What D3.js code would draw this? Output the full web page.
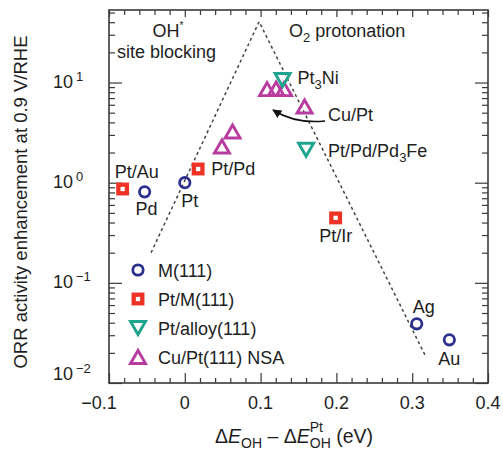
<!DOCTYPE html>
<html>
<head>
<meta charset="utf-8">
<script src="https://cdn.jsdelivr.net/npm/d3@7"></script>
<style>
  body { margin: 0; background: #fff; }
  svg text { font-family: "Liberation Sans", Arial, Helvetica, sans-serif; fill: #1e1e1e; white-space: pre; }
</style>
</head>
<body>
<svg id="chart" width="503" height="455"></svg>
<script>
// ---------------- DATA ----------------
// M(111) surfaces
const m111 = [
  { name: "Pd", x: -0.053, y: 0.81 },
  { name: "Pt", x: 0.0, y: 1.0 },
  { name: "Ag", x: 0.306, y: 0.039 },
  { name: "Au", x: 0.349, y: 0.027 }
];
// Pt monolayers on M(111)
const ptM = [
  { name: "Pt/Au", x: -0.082, y: 0.865 },
  { name: "Pt/Pd", x: 0.0176, y: 1.37 },
  { name: "Pt/Ir", x: 0.199, y: 0.445 }
];
// Pt skins on alloys
const ptAlloy = [
  { name: "Pt3Ni", x: 0.129, y: 10.6 },
  { name: "Pt/Pd/Pd3Fe", x: 0.160, y: 2.13 }
];
// Cu/Pt(111) near-surface alloys
const cuPt = [
  { x: 0.049, y: 2.30 },
  { x: 0.063, y: 3.25 },
  { x: 0.1086, y: 8.6 },
  { x: 0.1205, y: 8.7 },
  { x: 0.131, y: 8.6 },
  { x: 0.158, y: 5.77 }
];
// volcano guide (dotted)
const volcano = [
  { x: -0.0445, y: 0.2 },
  { x: 0.098, y: 40.5 },
  { x: 0.318, y: 0.0183 }
];
// arrow pointing at Cu/Pt cluster
const arrowFrom = { x: 0.185, y: 4.13 };
const arrowTo = { x: 0.1164, y: 5.32 };

const xMajor = [-0.1, 0, 0.1, 0.2, 0.3, 0.4];
const yDecades = [-2, -1, 0, 1];
const legendItems = ["M(111)", "Pt/M(111)", "Pt/alloy(111)", "Cu/Pt(111) NSA"];

// ---------------- STYLE ----------------
const C_NAVY = "#2c2f8c";
const C_RED = "#ee3326";
const C_TEAL = "#1fa48e";
const C_MAG = "#b83c9f";
const C_FRAME = "#3a3a3a";
const FS = 18;

// label offsets (px) from each point
const labelOff = {
  "Pd": [2, 23, "middle"],
  "Pt": [5, 24, "middle"],
  "Ag": [7, -11, "middle"],
  "Au": [0, 25, "middle"],
  "Pt/Au": [14, -11, "middle"],
  "Pt/Pd": [13, 6, "start"],
  "Pt/Ir": [0, 24, "middle"],
  "Pt3Ni": [15, 4, "start"],
  "Pt/Pd/Pd3Fe": [22, 7, "start"]
};

const svg = d3.select("#chart");
const L = 109, R = 488, T = 10, B = 383;

const x = d3.scaleLinear().domain([-0.1, 0.4]).range([L, R]);
const y = d3.scaleLog().domain([0.01, 53]).range([B, T]);

// ---------------- AXES / FRAME ----------------
const xMinor = d3.range(-0.1, 0.4001, 0.02).filter(v => Math.abs(Math.round(v * 10) - v * 10) > 1e-6);
const yMinor = y.ticks().filter(v => Math.abs(Math.log10(v) - Math.round(Math.log10(v))) > 1e-6);
const yMajor = yDecades.map(e => Math.pow(10, e));

function tickGroup(axis) {
  const g = svg.append("g").call(axis);
  g.select(".domain").remove();
  g.selectAll("line").attr("stroke", C_FRAME).attr("stroke-width", 1.2);
  g.selectAll("text").remove();
  return g;
}

tickGroup(d3.axisBottom(x).tickValues(xMajor).tickSize(-10)).attr("transform", `translate(0,${B})`);
tickGroup(d3.axisBottom(x).tickValues(xMinor).tickSize(-5)).attr("transform", `translate(0,${B})`);
tickGroup(d3.axisTop(x).tickValues(xMajor).tickSize(-7)).attr("transform", `translate(0,${T})`);
tickGroup(d3.axisTop(x).tickValues(xMinor).tickSize(-5)).attr("transform", `translate(0,${T})`);
tickGroup(d3.axisLeft(y).tickValues(yMajor).tickSize(-13)).attr("transform", `translate(${L},0)`);
tickGroup(d3.axisLeft(y).tickValues(yMinor).tickSize(-6)).attr("transform", `translate(${L},0)`);
tickGroup(d3.axisRight(y).tickValues(yMajor).tickSize(-13)).attr("transform", `translate(${R},0)`);
tickGroup(d3.axisRight(y).tickValues(yMinor).tickSize(-6)).attr("transform", `translate(${R},0)`);

svg.append("rect")
  .attr("x", L).attr("y", T).attr("width", R - L).attr("height", B - T)
  .attr("fill", "none").attr("stroke", C_FRAME).attr("stroke-width", 1.6);

// x tick labels
xMajor.forEach(v => {
  svg.append("text")
    .attr("x", x(v) + (v < 0 ? -10 : 0))
    .attr("y", B + 26)
    .attr("text-anchor", "middle")
    .attr("font-size", FS)
    .text(v < 0 ? "\u2212" + Math.abs(v) : String(v));
});

// y tick labels (10^n)
yDecades.forEach(e => {
  const t = svg.append("text")
    .attr("x", 53)
    .attr("y", Math.min(y(Math.pow(10, e)) + 5, 380))
    .attr("font-size", FS);
  t.append("tspan").text("10");
  t.append("tspan").attr("dx", 3).attr("dy", -7).attr("font-size", 13)
    .text(e < 0 ? "\u2212" + Math.abs(e) : String(e));
});

// y axis title
svg.append("text")
  .attr("transform", "translate(27,202) rotate(-90)")
  .attr("text-anchor", "middle")
  .attr("font-size", 18.5)
  .text("ORR activity enhancement at 0.9 V/RHE");

// x axis title: ΔE_OH − ΔE_OH^Pt (eV)
(function () {
  const g = svg.append("g");
  const base = 443;
  let cx = 0;
  function piece(str, opts = {}) {
    const t = g.append("text")
      .attr("x", cx)
      .attr("y", base + (opts.dy || 0))
      .attr("font-size", opts.fs || 19.5)
      .attr("font-style", opts.italic ? "italic" : "normal")
      .text(str);
    return t.node().getComputedTextLength();
  }
  cx += piece("\u0394");
  cx += piece("E", { italic: true });
  cx += piece("OH", { fs: 14, dy: 5 });
  cx += piece(" \u2013 ");
  cx += piece("\u0394");
  cx += piece("E", { italic: true });
  const w1 = piece("OH", { fs: 14, dy: 5 });
  const w2 = piece("Pt", { fs: 14, dy: -11 });
  cx += Math.max(w1, w2);
  cx += piece(" (eV)");
  g.attr("transform", `translate(${294 - cx / 2},0)`);
})();

// ---------------- VOLCANO GUIDE ----------------
const line = d3.line().x(d => x(d.x)).y(d => y(d.y));
svg.append("path")
  .datum(volcano)
  .attr("fill", "none")
  .attr("stroke", "#444")
  .attr("stroke-width", 1.5)
  .attr("stroke-dasharray", "3,3")
  .attr("d", line);

// ---------------- MARKERS ----------------
function triPath(w, h, down) {
  const s = down ? -1 : 1;
  return `M0,${-s * h / 2}L${-w / 2},${s * h / 2}L${w / 2},${s * h / 2}Z`;
}

function drawCircles(g, data) {
  g.selectAll("circle").data(data).join("circle")
    .attr("cx", d => x(d.x)).attr("cy", d => y(d.y)).attr("r", 5.2)
    .attr("fill", "none").attr("stroke", C_NAVY).attr("stroke-width", 2.8);
}
function drawSquares(g, data) {
  g.selectAll("rect").data(data).join("rect")
    .attr("x", d => x(d.x) - 4.3).attr("y", d => y(d.y) - 4.3)
    .attr("width", 8.6).attr("height", 8.6)
    .attr("fill", "#fff").attr("stroke", C_RED).attr("stroke-width", 4.3);
}
function drawTris(g, data, down, color) {
  g.selectAll("path").data(data).join("path")
    .attr("transform", d => `translate(${x(d.x)},${y(d.y)})`)
    .attr("d", triPath(15, 13, down))
    .attr("fill", "none").attr("stroke", color).attr("stroke-width", 2.9)
    .attr("stroke-linejoin", "miter");
}

drawTris(svg.append("g"), cuPt, false, C_MAG);
drawTris(svg.append("g"), ptAlloy, true, C_TEAL);
drawSquares(svg.append("g"), ptM);
drawCircles(svg.append("g"), m111);

// ---------------- POINT LABELS ----------------
function writeLabel(d) {
  const off = labelOff[d.name];
  if (!off) return;
  const t = svg.append("text")
    .attr("x", x(d.x) + off[0])
    .attr("y", y(d.y) + off[1])
    .attr("text-anchor", off[2])
    .attr("font-size", FS);
  // digits after element symbols become subscripts
  const parts = d.name.split(/(\d)/).filter(s => s.length);
  let sub = false;
  parts.forEach(p => {
    if (/\d/.test(p)) {
      t.append("tspan").attr("dy", 5).attr("font-size", 13).text(p);
      sub = true;
    } else {
      t.append("tspan").attr("dy", sub ? -5 : 0).text(p);
      sub = false;
    }
  });
}
[...m111, ...ptM, ...ptAlloy].forEach(writeLabel);

// region annotations
const oh = svg.append("text").attr("x", 168).attr("y", 37).attr("text-anchor", "middle").attr("font-size", FS);
oh.append("tspan").text("OH");
oh.append("tspan").attr("dy", -8).attr("font-size", 10).text("*");
svg.append("text").attr("x", 117).attr("y", 58).attr("font-size", FS).text("site blocking");

const o2 = svg.append("text").attr("x", 289).attr("y", 37).attr("font-size", FS);
o2.append("tspan").text("O");
o2.append("tspan").attr("dy", 5).attr("font-size", 13).text("2");
o2.append("tspan").attr("dy", -5).text(" protonation");

// Cu/Pt arrow
svg.append("defs").append("marker")
  .attr("id", "head").attr("viewBox", "0 0 10 10")
  .attr("refX", 9).attr("refY", 5)
  .attr("markerWidth", 9).attr("markerHeight", 9)
  .attr("markerUnits", "userSpaceOnUse")
  .attr("orient", "auto")
  .append("path").attr("d", "M0,0L10,5L0,10Z").attr("fill", "#111");

const ax0 = x(arrowFrom.x), ay0 = y(arrowFrom.y);
const ax1 = x(arrowTo.x), ay1 = y(arrowTo.y);
svg.append("path")
  .attr("d", `M${ax0},${ay0}Q${(ax0 + ax1) / 2 - 4},${ay0 + 3} ${ax1},${ay1}`)
  .attr("fill", "none").attr("stroke", "#111").attr("stroke-width", 1.6)
  .attr("marker-end", "url(#head)");
svg.append("text").attr("x", ax0 + 3).attr("y", ay0).attr("font-size", FS).text("Cu/Pt");

// ---------------- LEGEND ----------------
const lg = svg.append("g");
const rowY = i => 270 + i * 29;
legendItems.forEach((name, i) => {
  const cy = rowY(i);
  if (i === 0) lg.append("circle").attr("cx", 138).attr("cy", cy).attr("r", 5.2)
    .attr("fill", "none").attr("stroke", C_NAVY).attr("stroke-width", 2.8);
  if (i === 1) lg.append("rect").attr("x", 138 - 4.3).attr("y", cy - 4.3).attr("width", 8.6).attr("height", 8.6)
    .attr("fill", "#fff").attr("stroke", C_RED).attr("stroke-width", 4.3);
  if (i === 2) lg.append("path").attr("transform", `translate(138,${cy})`).attr("d", triPath(15, 13, true))
    .attr("fill", "none").attr("stroke", C_TEAL).attr("stroke-width", 2.9);
  if (i === 3) lg.append("path").attr("transform", `translate(138,${cy})`).attr("d", triPath(15, 13, false))
    .attr("fill", "none").attr("stroke", C_MAG).attr("stroke-width", 2.9);
  lg.append("text").attr("x", 158).attr("y", cy + 6.5).attr("font-size", FS).text(name);
});
</script>
</body>
</html>
